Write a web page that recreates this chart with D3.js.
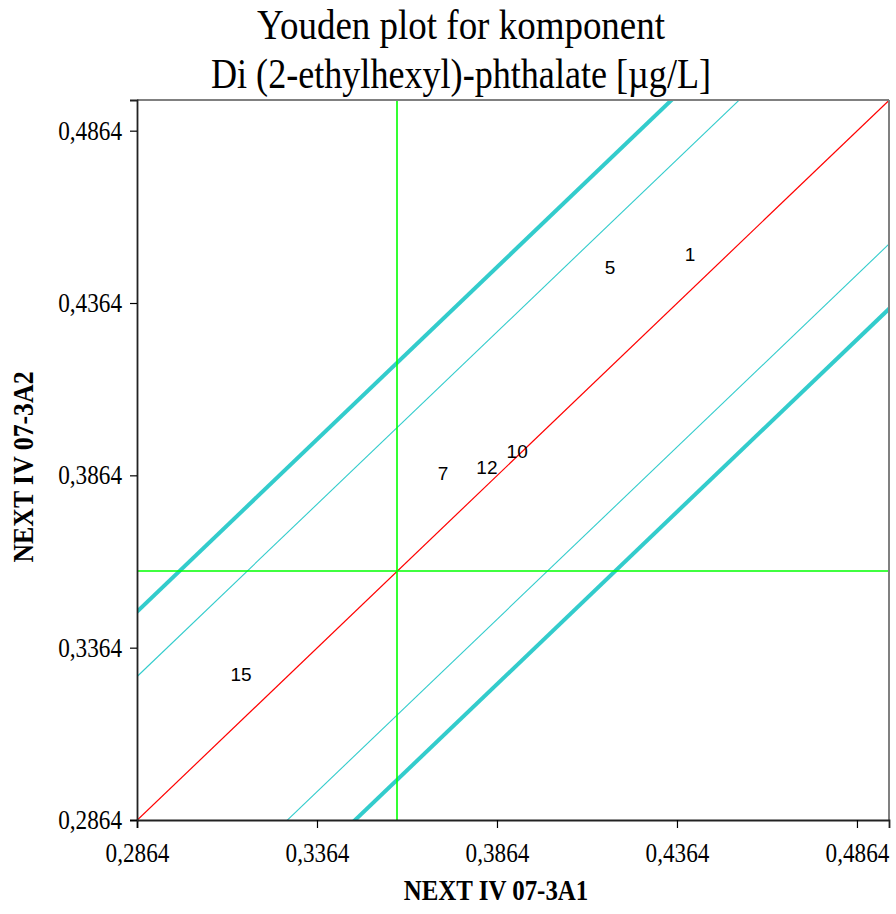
<!DOCTYPE html>
<html><head><meta charset="utf-8">
<script src="https://cdn.jsdelivr.net/npm/d3@7"></script>
<style>body{margin:0;background:#fff}</style>
</head><body>
<svg id="chart" width="896" height="914"></svg>
<script>
const titleLines = ["Youden plot for komponent", "Di (2-ethylhexyl)-phthalate [\u00b5g/L]"];
const xAxisTitle = "NEXT IV 07-3A1";
const yAxisTitle = "NEXT IV 07-3A2";
const labels  = ["1", "5", "7", "10", "12", "15"];
const xValues = [0.4400, 0.4178, 0.3714, 0.3920, 0.3836, 0.3153];
const yValues = [0.4504, 0.4466, 0.3868, 0.3932, 0.3886, 0.3285];
const tickValues = [0.2864, 0.3364, 0.3864, 0.4364, 0.4864];
const domain = [0.2864, 0.4953];
const centerX = 0.3586;
const centerY = 0.3585;
const thinOffsets = [0.0417, -0.0417];
const thickOffsets = [0.0605, -0.0605];

const W = 896, H = 914;
const m = {left: 137, right: 7, top: 100, bottom: 94};
const svg = d3.select("#chart");
const x = d3.scaleLinear().domain(domain).range([m.left, W - m.right]);
const y = d3.scaleLinear().domain(domain).range([H - m.bottom, m.top]);
const fmt = d => d3.format(".4f")(d).replace(".", ",");
const SX = 0.86;

svg.append("defs").append("clipPath").attr("id", "clip")
  .append("rect").attr("x", m.left).attr("y", m.top)
  .attr("width", W - m.left - m.right).attr("height", H - m.top - m.bottom);

const plot = svg.append("g").attr("clip-path", "url(#clip)");

function diag(off) {
  const b = centerY - centerX + off;
  return [[domain[0] - 1, domain[0] - 1 + b], [domain[1] + 1, domain[1] + 1 + b]];
}
const line = d3.line().x(d => x(d[0])).y(d => y(d[1]));

thickOffsets.forEach(o => plot.append("path").attr("d", line(diag(o)))
  .attr("stroke", "#33CCCC").attr("stroke-width", 4).attr("fill", "none"));
thinOffsets.forEach(o => plot.append("path").attr("d", line(diag(o)))
  .attr("stroke", "#33CCCC").attr("stroke-width", 1.1).attr("fill", "none"));
plot.append("path").attr("d", line(diag(0)))
  .attr("stroke", "#FF0000").attr("stroke-width", 1.2).attr("fill", "none");

const gx = Math.round(x(centerX)), gy = Math.round(y(centerY));
plot.append("line").attr("x1", gx).attr("x2", gx)
  .attr("y1", y(domain[0])).attr("y2", y(domain[1])).attr("stroke", "#00FF00").attr("stroke-width", 1.6);
plot.append("line").attr("x1", x(domain[0])).attr("x2", x(domain[1]))
  .attr("y1", gy).attr("y2", gy).attr("stroke", "#00FF00").attr("stroke-width", 1.6);

svg.append("line").attr("x1", m.left).attr("x2", W - m.right).attr("y1", m.top).attr("y2", m.top)
  .attr("stroke", "#808080").attr("stroke-width", 2);
svg.append("line").attr("x1", W - m.right).attr("x2", W - m.right).attr("y1", m.top).attr("y2", H - m.bottom)
  .attr("stroke", "#808080").attr("stroke-width", 2);

svg.append("g").selectAll("text").data(labels).join("text")
  .attr("x", (d, i) => x(xValues[i])).attr("y", (d, i) => y(yValues[i]))
  .attr("text-anchor", "middle").attr("dominant-baseline", "central")
  .attr("font-family", "Liberation Sans, Arial, sans-serif").attr("font-size", 19)
  .attr("fill", "#000").text(d => d);

const xAxis = svg.append("g").attr("transform", `translate(0,${H - m.bottom})`)
  .call(d3.axisBottom(x).tickValues(tickValues).tickFormat(fmt).tickSize(8).tickPadding(6));
const yAxis = svg.append("g").attr("transform", `translate(${m.left},0)`)
  .call(d3.axisLeft(y).tickValues(tickValues).tickFormat(fmt).tickSize(7).tickPadding(8));
[xAxis, yAxis].forEach(a => {
  a.select(".domain").attr("stroke", "#222").attr("stroke-width", 1.8);
  a.selectAll(".tick line").attr("stroke", "#000").attr("stroke-width", 1.2);
  a.selectAll(".tick text").attr("font-family", "Liberation Serif, Times New Roman, serif")
    .attr("font-size", 27).attr("fill", "#000");
});
xAxis.selectAll(".tick text").attr("dy", "1.05em").attr("transform", `scale(${SX},1)`);
yAxis.selectAll(".tick text").each(function() {
  const t = d3.select(this);
  const xx = +t.attr("x");
  t.attr("x", xx / SX).attr("transform", `scale(${SX},1)`);
});

function sText(px, py, txt, size, weight, rot) {
  const g = svg.append("g").attr("transform", `translate(${px},${py})` + (rot ? ` rotate(${rot})` : "") + ` scale(${SX},1)`);
  g.append("text").attr("text-anchor", "middle")
    .attr("font-family", "Liberation Serif, Times New Roman, serif")
    .attr("font-size", size).attr("font-weight", weight).attr("fill", "#000").text(txt);
}
sText(461, 39, titleLines[0], 43, "normal");
sText(461, 88, titleLines[1], 42, "normal");
sText(496, 900, xAxisTitle, 29, "bold");
sText(33, 467, yAxisTitle, 30, "bold", -90);
</script>
</body></html>
